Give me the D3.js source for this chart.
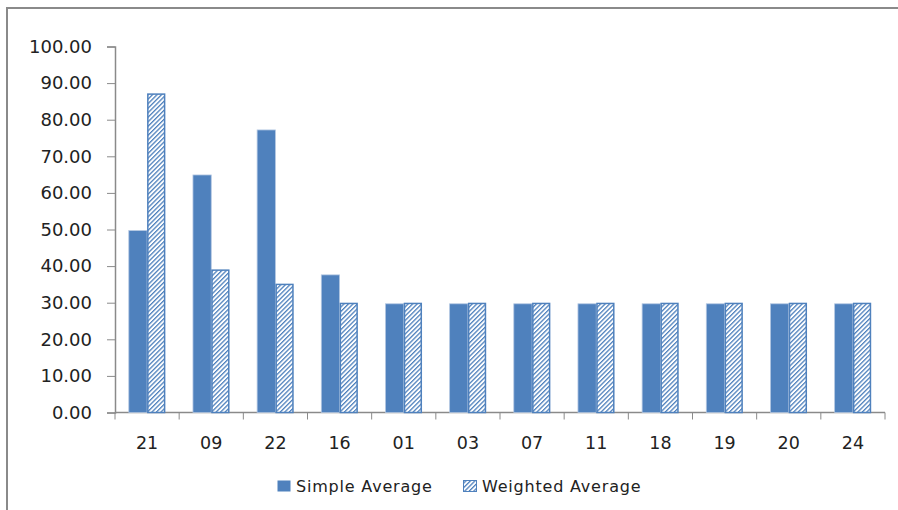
<!DOCTYPE html>
<html>
<head>
<meta charset="utf-8">
<script src="https://cdn.jsdelivr.net/npm/d3@7"></script>
<style>
  html, body { margin: 0; padding: 0; background: #fff; }
  svg { display: block; }
  text { font-family: "DejaVu Sans", "Open Sans", sans-serif; fill: #222; }
</style>
</head>
<body>
<svg id="chart" width="898" height="510"></svg>
<script>
// Category codes along the x axis
const categories = ["21", "09", "22", "16", "01", "03", "07", "11", "18", "19", "20", "24"];
// Series values
const simpleAverage   = [49.7, 64.9, 77.2, 37.6, 29.7, 29.7, 29.7, 29.7, 29.7, 29.7, 29.7, 29.7];
const weightedAverage = [87.2, 39.1, 35.2, 30.0, 30.0, 30.0, 30.0, 30.0, 30.0, 30.0, 30.0, 30.0];
const seriesNames = ["Simple Average", "Weighted Average"];
const yTicks = [0, 10, 20, 30, 40, 50, 60, 70, 80, 90, 100];

const svg = d3.select("#chart");
const W = 898, H = 510;
const blue = "#4F81BD";

// Hatch pattern for the weighted series
const defs = svg.append("defs");
const pat = defs.append("pattern")
  .attr("id", "hatch")
  .attr("patternUnits", "userSpaceOnUse")
  .attr("width", 3.2).attr("height", 3.2)
  .attr("patternTransform", "rotate(45)");
pat.append("rect").attr("width", 3.2).attr("height", 3.2).attr("fill", "#fff");
pat.append("rect").attr("width", 1.3).attr("height", 3.2).attr("fill", blue);

// Outer chart frame
svg.append("rect")
  .attr("x", 7).attr("y", 8).attr("width", W + 10).attr("height", H + 10)
  .attr("fill", "#fff").attr("stroke", "#8a8a8a").attr("stroke-width", 2);

const plotLeft = 115, plotRight = 885, plotTop = 46.5, plotBottom = 412.5;

const x = d3.scaleBand().domain(categories).range([plotLeft, plotRight]).paddingInner(0).paddingOuter(0);
const y = d3.scaleLinear().domain([0, 100]).range([plotBottom, plotTop]);
const groupPad = 0.215; // fraction of band left empty on each side
const inner = d3.scaleBand().domain(seriesNames)
  .range([x.bandwidth() * groupPad, x.bandwidth() * (1 - groupPad)]);

// Y axis
const yAxis = d3.axisLeft(y).tickValues(yTicks).tickSize(8).tickPadding(15)
  .tickFormat(d3.format(".2f"));
const gy = svg.append("g").attr("transform", `translate(${plotLeft},0)`).call(yAxis);
gy.select(".domain").attr("stroke", "#8a8a8a").attr("stroke-width", 1.5);
gy.selectAll(".tick line").attr("stroke", "#8a8a8a");
gy.selectAll(".tick text").attr("font-size", 18).style("fill", "#222")
  .attr("font-family", "'DejaVu Sans', sans-serif");

// X axis with tick marks at category boundaries
const gx = svg.append("g").attr("transform", `translate(0,${plotBottom})`);
gx.append("line").attr("x1", plotLeft).attr("x2", plotRight).attr("stroke", "#8a8a8a").attr("stroke-width", 1.5);
gx.selectAll("line.tk").data(categories.concat(["end"])).join("line")
  .attr("class", "tk")
  .attr("x1", (d, i) => plotLeft + i * x.step()).attr("x2", (d, i) => plotLeft + i * x.step())
  .attr("y1", 0).attr("y2", 7).attr("stroke", "#8a8a8a");
gx.selectAll("text").data(categories).join("text")
  .attr("x", d => x(d) + x.bandwidth() / 2)
  .attr("y", 36)
  .attr("text-anchor", "middle")
  .attr("font-size", 17.5)
  .text(d => d);

// Bars
const rows = categories.map((c, i) => ({ c, vals: [simpleAverage[i], weightedAverage[i]] }));
const groups = svg.append("g").selectAll("g").data(rows).join("g")
  .attr("transform", d => `translate(${x(d.c)},0)`);
groups.selectAll("rect").data(d => d.vals.map((v, k) => ({ v, k })))
  .join("rect")
  .attr("x", d => inner(seriesNames[d.k]) + (d.k === 1 ? 0.75 : 0))
  .attr("width", d => inner.bandwidth() - (d.k === 1 ? 1.5 : 0))
  .attr("y", d => y(d.v) + (d.k === 1 ? 0.75 : 0))
  .attr("height", d => y(0) - y(d.v) - (d.k === 1 ? 0.75 : 0))
  .attr("fill", d => d.k === 0 ? blue : "url(#hatch)")
  .attr("stroke", d => d.k === 0 ? "#b3c7e2" : blue)
  .attr("stroke-width", d => d.k === 0 ? 0.8 : 1.5);

// Legend
const legend = svg.append("g");
const legendItems = [
  { name: seriesNames[0], x: 277, fill: blue, stroke: "none" },
  { name: seriesNames[1], x: 463, fill: "url(#hatch)", stroke: blue }
];
legendItems.forEach(it => {
  legend.append("rect").attr("x", it.x + 0.5).attr("y", 480.5).attr("width", 13).attr("height", 11)
    .attr("fill", it.fill).attr("stroke", it.stroke).attr("stroke-width", 1);
  legend.append("text").attr("x", it.x + 19).attr("y", 492)
    .attr("font-size", 16).attr("letter-spacing", 0.8).text(it.name);
});
</script>
</body>
</html>
